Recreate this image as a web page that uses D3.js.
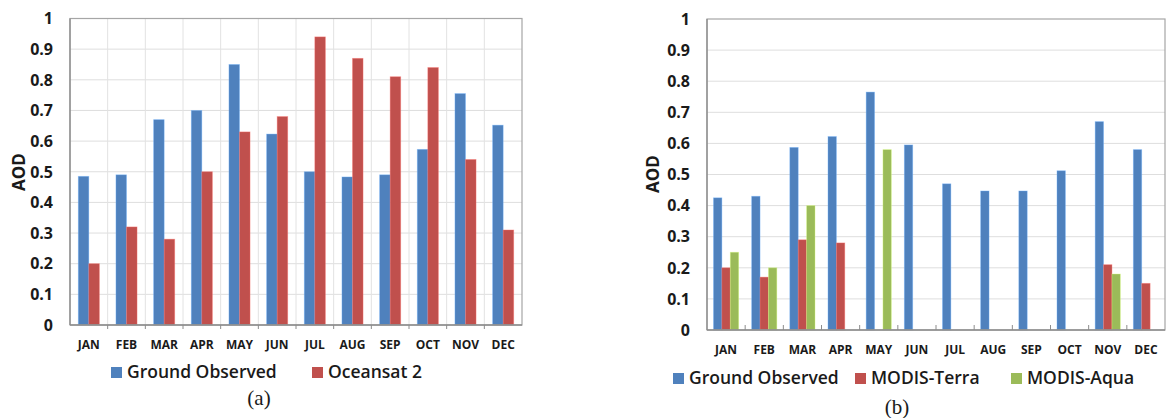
<!DOCTYPE html>
<html>
<head>
<meta charset="utf-8">
<script src="https://cdn.jsdelivr.net/npm/d3@7"></script>
<style>
  body { margin: 0; background: #fff; }
  svg { display: block; }
  text { font-family: "Open Sans", sans-serif; fill: #1a1a1a; }
</style>
</head>
<body>
<script>
// dati
const months = ["JAN", "FEB", "MAR", "APR", "MAY", "JUN", "JUL", "AUG", "SEP", "OCT", "NOV", "DEC"];
const yTicks = [0, 0.1, 0.2, 0.3, 0.4, 0.5, 0.6, 0.7, 0.8, 0.9, 1];

// (a)
const groundA = [0.485, 0.49, 0.67, 0.70, 0.85, 0.623, 0.50, 0.483, 0.49, 0.573, 0.755, 0.652];
const oceansat = [0.20, 0.32, 0.28, 0.50, 0.63, 0.68, 0.94, 0.87, 0.81, 0.84, 0.54, 0.31];

// (b)
const groundB = [0.425, 0.43, 0.587, 0.622, 0.765, 0.595, 0.47, 0.447, 0.447, 0.512, 0.67, 0.58];
const terra = [0.20, 0.17, 0.29, 0.28, null, null, null, null, null, null, 0.21, 0.15];
const aqua = [0.25, 0.20, 0.40, null, 0.58, null, null, null, null, null, 0.18, null];

const colors = { ground: "#4f81bd", red: "#c0504d", green: "#9bbb59" };

const svg = d3.select("body").append("svg").attr("width", 1166).attr("height", 418);

function drawChart(cfg) {
  const g = svg.append("g");

  const x = d3.scaleBand().domain(months).range([cfg.left, cfg.right])
    .paddingInner(cfg.pad).paddingOuter(cfg.pad / 2);
  const x1 = d3.scaleBand().domain(cfg.series.map((s) => s.name)).range([0, x.bandwidth()]);
  const y = d3.scaleLinear().domain([0, 1]).range([cfg.bottom, cfg.top]);
  const step = x.step();

  // griglia orizzontale
  g.selectAll(".hgrid")
    .data(yTicks.slice(1, -1))
    .join("line")
    .attr("x1", cfg.left).attr("x2", cfg.right)
    .attr("y1", (d) => y(d)).attr("y2", (d) => y(d))
    .attr("stroke", "#dedede").attr("stroke-width", 1);

  // griglia verticale (solo grafico a)
  if (cfg.vgrid) {
    g.selectAll(".vgrid")
      .data(d3.range(1, months.length))
      .join("line")
      .attr("x1", (i) => cfg.left + i * step).attr("x2", (i) => cfg.left + i * step)
      .attr("y1", cfg.top).attr("y2", cfg.bottom)
      .attr("stroke", "#e2e2e2").attr("stroke-width", 1);
  }

  // barre
  cfg.series.forEach((s) => {
    const rows = months.map((m, i) => ({ m, v: s.values[i] })).filter((d) => d.v != null);
    g.append("g")
      .selectAll("rect")
      .data(rows)
      .join("rect")
      .attr("x", (d) => x(d.m) + x1(s.name))
      .attr("width", x1.bandwidth())
      .attr("y", (d) => y(d.v))
      .attr("height", (d) => y(0) - y(d.v))
      .attr("fill", s.color)
      .attr("stroke", d3.color(s.color).brighter(0.9))
      .attr("stroke-opacity", 0.45)
      .attr("stroke-width", 0.8);
  });

  // bordo
  g.append("rect")
    .attr("x", cfg.left).attr("y", cfg.top)
    .attr("width", cfg.right - cfg.left).attr("height", cfg.bottom - cfg.top)
    .attr("fill", "none").attr("stroke", "#a6a6a6").attr("stroke-width", 1.2);
  g.append("line")
    .attr("x1", cfg.left).attr("x2", cfg.left).attr("y1", cfg.top).attr("y2", cfg.bottom)
    .attr("stroke", "#8c8c8c").attr("stroke-width", 1.3);
  g.append("line")
    .attr("x1", cfg.left).attr("x2", cfg.right).attr("y1", cfg.bottom).attr("y2", cfg.bottom)
    .attr("stroke", "#8c8c8c").attr("stroke-width", 1.5);

  // tacche asse x
  g.selectAll(".xtick")
    .data(d3.range(1, months.length))
    .join("line")
    .attr("x1", (i) => cfg.left + i * step).attr("x2", (i) => cfg.left + i * step)
    .attr("y1", cfg.bottom).attr("y2", cfg.bottom + cfg.tickDir)
    .attr("stroke", "#8c8c8c");

  // etichette mesi
  g.selectAll(".mlab")
    .data(months)
    .join("text")
    .attr("x", (d) => x(d) + x.bandwidth() / 2)
    .attr("y", cfg.monthY)
    .attr("text-anchor", "middle")
    .style("font-size", "12px").style("font-weight", "bold")
    .text((d) => d);

  // etichette asse y
  g.selectAll(".ylab")
    .data(yTicks)
    .join("text")
    .attr("x", cfg.left - 17)
    .attr("y", (d) => y(d))
    .attr("dy", "0.36em")
    .attr("text-anchor", "end")
    .style("font-size", "16px").style("font-weight", "bold")
    .text((d) => d3.format("~g")(d));

  g.append("text")
    .attr("transform", `translate(${cfg.aodX},${cfg.aodY}) rotate(-90)`)
    .attr("text-anchor", "middle")
    .attr("dy", "0.36em")
    .style("font-size", "17px").style("font-weight", "bold")
    .text("AOD");

  // legenda
  cfg.legend.forEach((l, i) => {
    const s = cfg.series[i];
    g.append("rect")
      .attr("x", l).attr("y", cfg.legendY - 5)
      .attr("width", 11).attr("height", 11)
      .attr("fill", s.color);
    g.append("text")
      .attr("x", l + 16).attr("y", cfg.legendY)
      .attr("dy", "0.36em")
      .style("font-size", "17.5px").style("font-weight", 600)
      .text(s.name);
  });

  g.append("text")
    .attr("x", cfg.capX).attr("y", cfg.capY)
    .attr("text-anchor", "middle")
    .style("font-family", "'Liberation Serif', serif")
    .style("font-size", "21px")
    .text(cfg.caption);
}

drawChart({
  left: 70, right: 522, top: 18.5, bottom: 325,
  pad: 0.44, vgrid: true, tickDir: 4, monthY: 349,
  aodX: 19, aodY: 172,
  series: [
    { name: "Ground Observed", values: groundA, color: colors.ground },
    { name: "Oceansat 2", values: oceansat, color: colors.red }
  ],
  legend: [111, 312], legendY: 372,
  caption: "(a)", capX: 259, capY: 405
});

drawChart({
  left: 707, right: 1165, top: 19, bottom: 330,
  pad: 0.34, vgrid: false, tickDir: -5, monthY: 354,
  aodX: 653, aodY: 174,
  series: [
    { name: "Ground Observed", values: groundB, color: colors.ground },
    { name: "MODIS-Terra", values: terra, color: colors.red },
    { name: "MODIS-Aqua", values: aqua, color: colors.green }
  ],
  legend: [673, 855, 1011], legendY: 378,
  caption: "(b)", capX: 897, capY: 414
});
</script>
</body>
</html>
